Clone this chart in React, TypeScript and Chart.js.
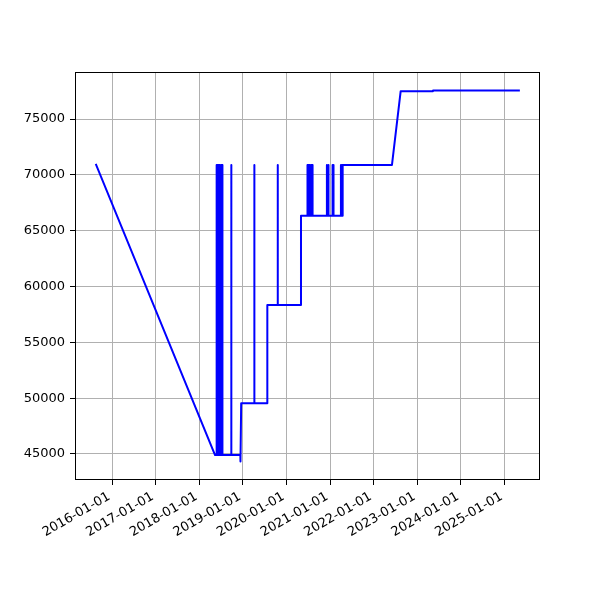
import { useEffect, useRef } from "react";
import { Chart, registerables } from "chart.js";

Chart.register(...registerables);

const dates = [
  "2015-08-20", "2018-05-12", "2018-05-24",
  "2018-05-25", "2018-05-26", "2018-06-01", "2018-06-02", "2018-06-08", "2018-06-09",
  "2018-06-15", "2018-06-16", "2018-06-22", "2018-06-23", "2018-06-29", "2018-06-30",
  "2018-07-06", "2018-07-07", "2018-07-12", "2018-07-13",
  "2018-09-24", "2018-09-25", "2018-09-26",
  "2018-12-10", "2018-12-11", "2018-12-17",
  "2019-04-05", "2019-04-06", "2019-04-07",
  "2019-07-23", "2019-07-24",
  "2019-10-18", "2019-10-19", "2019-10-20",
  "2020-04-30", "2020-05-01",
  "2020-06-23", "2020-06-24", "2020-06-25", "2020-07-01", "2020-07-02", "2020-07-08", "2020-07-09",
  "2020-07-15", "2020-07-16", "2020-07-22", "2020-07-23", "2020-07-29", "2020-07-30",
  "2020-08-05", "2020-08-06",
  "2020-12-03", "2020-12-04", "2020-12-05", "2020-12-16", "2020-12-17", "2020-12-18",
  "2021-01-19", "2021-01-20", "2021-01-21", "2021-01-27", "2021-01-28", "2021-01-29",
  "2021-03-30", "2021-03-31", "2021-04-01", "2021-04-07", "2021-04-08", "2021-04-09",
  "2021-04-14", "2021-04-15",
  "2022-06-02", "2022-08-14", "2023-05-11", "2023-05-12", "2025-04-30",
];

const prices = [
  70900, 44900, 44900,
  70900, 44900, 70900, 44900, 70900, 44900,
  70900, 44900, 70900, 44900, 70900, 44900,
  70900, 44900, 70900, 44900,
  44900, 70900, 44900,
  44900, 44330, 49550,
  49550, 70900, 49550,
  49550, 58350,
  58350, 70900, 58350,
  58350, 66350,
  66350, 70900, 66350, 70900, 66350, 70900, 66350,
  70900, 66350, 70900, 66350, 70900, 66350,
  70900, 66350,
  66350, 70900, 66350, 66350, 70900, 66350,
  66350, 70900, 66350, 66350, 70900, 66350,
  66350, 70900, 66350, 66350, 70900, 66350,
  66350, 70900,
  70900, 77500, 77500, 77560, 77560,
];

const yTicks = [45000, 50000, 55000, 60000, 65000, 70000, 75000];
const xTickLabels = [
  "2016-01-01", "2017-01-01", "2018-01-01", "2019-01-01", "2020-01-01",
  "2021-01-01", "2022-01-01", "2023-01-01", "2024-01-01", "2025-01-01",
];

const toMs = (d: string) => Date.parse(d + "T00:00:00Z");

const framePlugin = {
  id: "frame",
  afterDraw(chart: any) {
    const { ctx, chartArea: a } = chart;
    ctx.save();
    ctx.strokeStyle = "#000000";
    ctx.lineWidth = 1;
    ctx.strokeRect(Math.round(a.left) + 0.5, Math.round(a.top) + 0.5, Math.round(a.right - a.left) - 1, Math.round(a.bottom - a.top) - 1);
    ctx.restore();
  },
};

export default function App() {
  const ref = useRef<HTMLCanvasElement>(null);

  useEffect(() => {
    const pts = dates.map((d, i) => ({ x: toMs(d), y: prices[i] }));
    const xs = pts.map((p) => p.x);
    const ys = pts.map((p) => p.y);
    const xmin = Math.min(...xs);
    const xmax = Math.max(...xs);
    const ymin = Math.min(...ys);
    const ymax = Math.max(...ys);
    const xpad = (xmax - xmin) * 0.05;
    const ypad = (ymax - ymin) * 0.05;
    const font = { family: "DejaVu Sans", size: 13 };

    const chart = new Chart(ref.current as HTMLCanvasElement, {
      type: "line",
      data: {
        datasets: [
          {
            data: pts,
            borderColor: "#0000ff",
            borderWidth: 2,
            pointRadius: 0,
            tension: 0,
            fill: false,
            borderCapStyle: "square",
            borderJoinStyle: "round",
          },
        ],
      },
      options: {
        animation: false,
        responsive: false,
        events: [],
        layout: { padding: { left: 0, right: 60, top: 72, bottom: 0 } },
        plugins: { legend: { display: false }, tooltip: { enabled: false } },
        scales: {
          x: {
            type: "linear",
            min: xmin - xpad,
            max: xmax + xpad,
            afterBuildTicks: (s: any) => {
              s.ticks = xTickLabels.map((l) => ({ value: toMs(l) }));
            },
            afterFit: (s: any) => {
              s.height = 120;
            },
            ticks: {
              autoSkip: false,
              minRotation: 30,
              maxRotation: 30,
              color: "#000000",
              font,
              padding: 4,
              labelOffset: -3,
              callback: (v: any) => new Date(Number(v)).toISOString().slice(0, 10),
            },
            grid: { color: "#b0b0b0", lineWidth: 1, tickColor: "#000000", tickLength: 5 },
            border: { display: false },
          },
          y: {
            type: "linear",
            min: ymin - ypad,
            max: ymax + ypad,
            afterBuildTicks: (s: any) => {
              s.ticks = yTicks.map((v) => ({ value: v }));
            },
            afterFit: (s: any) => {
              s.width = 75;
            },
            ticks: {
              color: "#000000",
              font,
              padding: 5,
              callback: (v: any) => String(v),
            },
            grid: { color: "#b0b0b0", lineWidth: 1, tickColor: "#000000", tickLength: 5 },
            border: { display: false },
          },
        },
      } as any,
      plugins: [framePlugin],
    });
    return () => chart.destroy();
  }, []);

  return (
    <div style={{ position: "absolute", left: 0, top: 0, width: 600, height: 600, background: "#ffffff" }}>
      <canvas ref={ref} width={600} height={600} style={{ display: "block" }} />
    </div>
  );
}
